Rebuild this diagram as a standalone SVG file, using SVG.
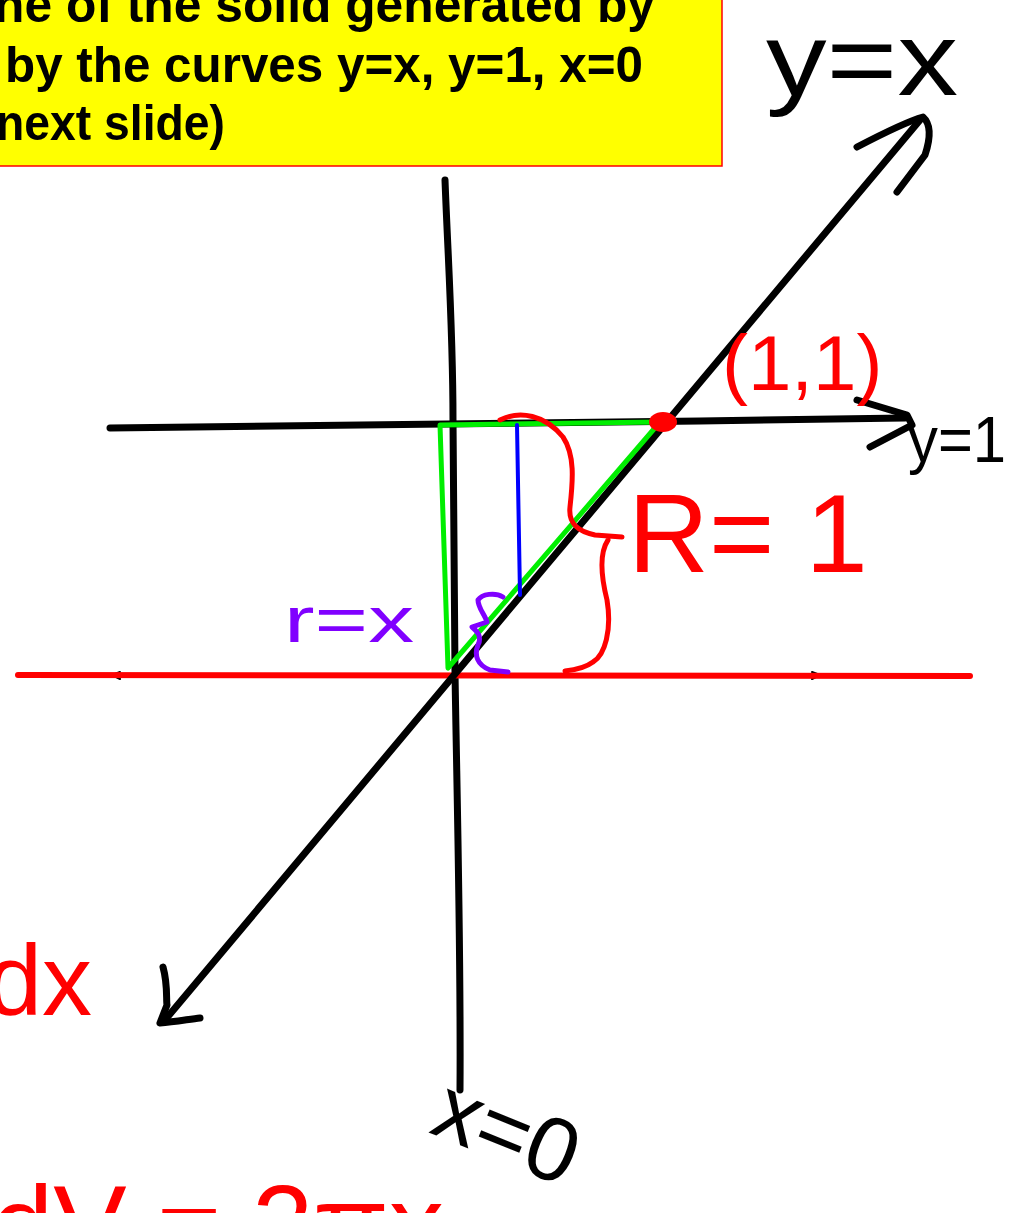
<svg xmlns="http://www.w3.org/2000/svg" width="1021" height="1213" viewBox="0 0 1021 1213">
<style>
.ink{fill:none;stroke-linecap:round;stroke-linejoin:round}
.blk{stroke:#000;stroke-width:7}
.red{stroke:#ff0000;stroke-width:6}
.hand{font-family:"Liberation Sans","DejaVu Sans",sans-serif}
.box{font-family:"Liberation Sans",Arial,sans-serif;font-weight:bold;font-size:50px;fill:#000}
</style>
<rect width="1021" height="1213" fill="#fff"/>
<g id="title">
<rect x="-2" y="-2" width="724" height="168" fill="#ffff00" stroke="#ff0000" stroke-width="1.5"/>
<text class="box" x="-6" y="22" textLength="661" lengthAdjust="spacingAndGlyphs">ne of the solid generated by</text>
<text class="box" x="5" y="82" textLength="638" lengthAdjust="spacingAndGlyphs">by the curves y=x, y=1, x=0</text>
<text class="box" x="-4" y="140" textLength="229" lengthAdjust="spacingAndGlyphs">next slide)</text>
</g>
<g id="axes">
<path class="ink blk" d="M445,180 C448,260 453,330 453,420 C454,520 454,600 455,672 C457,800 461,950 460,1090"/>
<path class="ink blk" d="M110,428 C300,424 500,424 700,421 L905,418"/>
<path class="ink blk" stroke-width="6" d="M857,400 L907,415 L912,425 L870,447"/>
<path class="ink" stroke="#000" stroke-width="2" d="M120,672 L112,675 L120,679 M812,672 L820,675 L812,679"/>
<path class="ink red" d="M18,675 C300,673 600,676 970,676"/>
<path class="ink blk" stroke-width="6" d="M165,1020 L455,674 L665,424 L920,120"/>
<path class="ink blk" stroke-width="6" d="M857,147 C880,135 905,122 923,117 C932,125 930,140 925,155 L897,192"/>
<path class="ink blk" stroke-width="6" d="M163,967 C168,985 166,1000 167,1005 L160,1023 C175,1022 190,1019 200,1018"/>
</g>
<g id="region">
<path class="ink" stroke="#00ee00" stroke-width="5" d="M448,668 L440,425 L660,422 L448,668 Z"/>
<path class="ink" stroke="#0000ff" stroke-width="4" d="M517,425 L520,595"/>
<ellipse cx="663" cy="422" rx="14" ry="10" fill="#ff0000"/>
</g>
<g id="braces">
<path class="ink" stroke="#ff0000" stroke-width="5" d="M500,420 C520,410 545,415 563,437 C575,455 573,480 570,507 C568,525 580,532 595,535 L622,537 M608,540 C598,555 602,580 607,600 C612,630 605,655 593,662 C585,668 575,670 565,671"/>
<path class="ink" stroke="#8000ff" stroke-width="5" d="M503,597 C495,592 482,594 478,600 C478,608 485,615 487,622 L472,627 C478,632 482,637 478,645 C474,655 477,665 490,670 L508,672"/>
</g>
<g id="labels">
<text class="hand" x="766" y="95" font-size="104" fill="#000" textLength="192" lengthAdjust="spacingAndGlyphs">y=x</text>
<text class="hand" x="908" y="462" font-size="64" fill="#000" textLength="98" lengthAdjust="spacingAndGlyphs">y=1</text>
<text class="hand" x="722" y="390" font-size="78" fill="#ff0000">(1,1)</text>
<text class="hand" x="628" y="572" font-size="112" fill="#ff0000">R= 1</text>
<text class="hand" x="284" y="642" font-size="64" fill="#8000ff" textLength="130" lengthAdjust="spacingAndGlyphs">r=x</text>
<text class="hand" x="92" y="1015" font-size="100" fill="#ff0000" text-anchor="end">dx</text>
<text class="hand" x="420" y="1150" font-size="90" fill="#000" transform="rotate(22 470 1160)">x=0</text>
<text class="hand" x="-8" y="1262" font-size="110" fill="#ff0000">dV = 2πx</text>
</g>
</svg>
